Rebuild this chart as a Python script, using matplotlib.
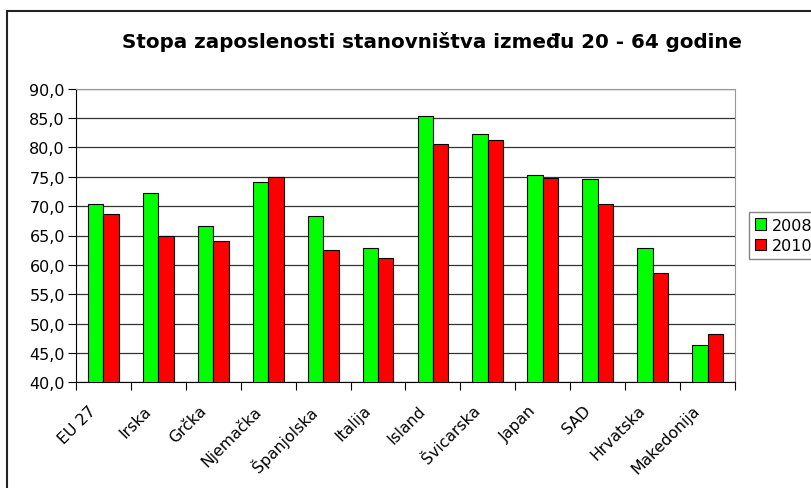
import numpy as np
import matplotlib
matplotlib.use('Agg')
import matplotlib.pyplot as plt
import matplotlib.transforms as mtransforms
from matplotlib.patches import Rectangle

countries = ['EU 27', 'Irska', 'Grčka', 'Njemačka', 'Španjolska', 'Italija',
             'Island', 'Švicarska', 'Japan', 'SAD', 'Hrvatska', 'Makedonija']
rate_2008 = [70.4, 72.3, 66.6, 74.1, 68.4, 62.9, 85.3, 82.3, 75.3, 74.6, 62.9, 46.4]
rate_2010 = [68.6, 65.0, 64.1, 75.0, 62.5, 61.2, 80.5, 81.2, 74.8, 70.4, 58.6, 48.2]
years = ['2008', '2010']
yticks = np.arange(40, 91, 5)

plt.rcParams['font.family'] = 'DejaVu Sans'
fig = plt.figure(figsize=(8.12, 4.89), dpi=100)

# outer chart frame (cut off on the right and bottom like the original)
fig.patches.append(Rectangle((7 / 812, -0.1), 1.2, 1 - 12 / 489 + 0.1,
                             transform=fig.transFigure, fill=False,
                             edgecolor='#222222', linewidth=1.5))

ax = fig.add_axes([76 / 812, 1 - 383.3 / 489, (735 - 76) / 812, (383.3 - 89.7) / 489])
x = np.arange(len(countries))
w = 0.28
ax.bar(x - w / 2, rate_2008, w, color='#00ff00', edgecolor='black', linewidth=0.8,
       label=years[0], zorder=3)
ax.bar(x + w / 2, rate_2010, w, color='#ff0000', edgecolor='black', linewidth=0.8,
       label=years[1], zorder=3)

ax.set_xlim(-0.5, len(countries) - 0.5)
ax.set_ylim(40, 90)
ax.set_yticks(yticks)
ax.set_yticklabels([f'{v:.1f}'.replace('.', ',') for v in yticks], fontsize=11.5)
ax.yaxis.grid(True, color='#333333', linewidth=0.9, zorder=0)

ax.set_xticks(np.arange(len(countries) + 1) - 0.5)
ax.set_xticklabels([])
ax.set_xticks(x, minor=True)
ax.set_xticklabels(countries, minor=True, rotation=45, ha='right',
                   rotation_mode='anchor', fontsize=11.3)
ax.tick_params(axis='x', which='minor', length=0, pad=8)
ax.tick_params(axis='x', which='major', length=6, direction='out')
ax.tick_params(axis='y', length=6, direction='out', pad=2)
shift = mtransforms.ScaledTranslation(-15 / 100, -9 / 100, fig.dpi_scale_trans)
for lab in ax.get_xticklabels(minor=True):
    lab.set_transform(lab.get_transform() + shift)

for s in ['top', 'right']:
    ax.spines[s].set_color('#999999')
ax.spines['left'].set_color('black')
ax.spines['bottom'].set_color('black')

fig.text(432.5 / 812, 1 - 42 / 489, 'Stopa zaposlenosti stanovništva između 20 - 64 godine',
         ha='center', va='center', fontsize=14.3, fontweight='bold')

leg = ax.legend(loc='upper left', bbox_to_anchor=(749 / 812, 1 - 213 / 489),
                bbox_transform=fig.transFigure, fontsize=11.5, frameon=True,
                fancybox=False, edgecolor='#666666', handlelength=0.7,
                handleheight=0.7, handletextpad=0.4, borderpad=0.35,
                labelspacing=0.35, borderaxespad=0)
leg.get_frame().set_linewidth(1)

fig.savefig('out.png', dpi=100)
